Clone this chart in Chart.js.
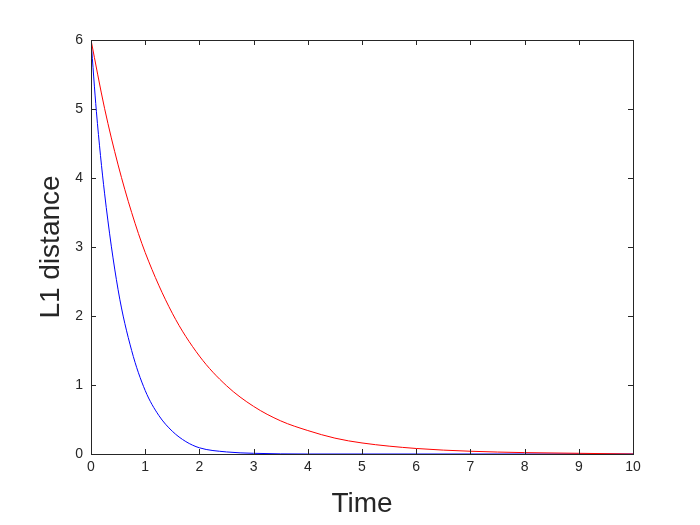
<!DOCTYPE html>
<html>
<head>
<meta charset="utf-8">
<script src="https://cdn.jsdelivr.net/npm/chart.js@4"></script>
<style>
  body { margin: 0; background: #fff; }
  #wrap { width: 700px; height: 525px; }
</style>
</head>
<body>
<div id="wrap"><canvas id="c" width="700" height="525"></canvas></div>
<script>
const timeBlue = [0, 0.1, 0.25, 0.5, 0.75, 1, 1.25, 1.5, 1.75, 2, 2.5, 3, 4, 5, 6, 7, 8, 9, 10];
const blueVals = [6, 4.96, 3.78, 2.38, 1.5, 0.92, 0.56, 0.33, 0.18, 0.09, 0.03, 0.01, 0, 0, 0, 0, 0, 0, 0];
const timeRed = [0, 0.25, 0.5, 0.75, 1, 1.5, 2, 2.5, 3, 3.5, 4, 4.5, 5, 6, 7, 8, 9, 10];
const redVals = [6, 5.01, 4.19, 3.5, 2.92, 2.04, 1.42, 0.99, 0.69, 0.48, 0.34, 0.23, 0.16, 0.08, 0.04, 0.02, 0.01, 0];
const xTicks = [0, 1, 2, 3, 4, 5, 6, 7, 8, 9, 10];
const yTicks = [0, 1, 2, 3, 4, 5, 6];

const toPts = (xs, ys) => xs.map((x, i) => ({ x: x, y: ys[i] }));

// box around the plot plus inward tick marks, like matlab
const boxPlugin = {
  id: 'box',
  afterDraw(chart) {
    const { ctx, chartArea: a, scales } = chart;
    ctx.save();
    ctx.strokeStyle = '#262626';
    ctx.lineWidth = 1;
    ctx.strokeRect(a.left + 0.5, a.top + 0.5, a.right - a.left, a.bottom - a.top);
    ctx.beginPath();
    for (const t of xTicks) {
      const px = Math.round(scales.x.getPixelForValue(t)) + 0.5;
      ctx.moveTo(px, a.bottom); ctx.lineTo(px, a.bottom - 5);
      ctx.moveTo(px, a.top); ctx.lineTo(px, a.top + 5);
    }
    for (const t of yTicks) {
      const py = Math.round(scales.y.getPixelForValue(t)) + 0.5;
      ctx.moveTo(a.left, py); ctx.lineTo(a.left + 5, py);
      ctx.moveTo(a.right, py); ctx.lineTo(a.right - 5, py);
    }
    ctx.stroke();
    ctx.restore();
  }
};

new Chart(document.getElementById('c'), {
  type: 'line',
  data: {
    datasets: [
      { data: toPts(timeRed, redVals), borderColor: '#ff0000', borderWidth: 1, pointRadius: 0, cubicInterpolationMode: 'monotone' },
      { data: toPts(timeBlue, blueVals), borderColor: '#0000ff', borderWidth: 1, pointRadius: 0, cubicInterpolationMode: 'monotone' }
    ]
  },
  options: {
    responsive: false,
    animation: false,
    layout: { padding: { top: 40, right: 67, left: 30, bottom: 0 } },
    plugins: { legend: { display: false }, tooltip: { enabled: false } },
    scales: {
      x: {
        type: 'linear', min: 0, max: 10,
        afterBuildTicks: s => { s.ticks = xTicks.map(v => ({ value: v })); },
        afterFit: s => { s.height = 71; },
        grid: { display: false, drawTicks: false },
        border: { display: false },
        ticks: { color: '#262626', font: { family: 'Liberation Sans', size: 14 }, padding: 5, maxRotation: 0 },
        title: { display: true, text: 'Time', color: '#262626', font: { family: 'Liberation Sans', size: 28 }, padding: { top: 2 } }
      },
      y: {
        min: 0, max: 6,
        afterBuildTicks: s => { s.ticks = yTicks.map(v => ({ value: v })); },
        afterFit: s => { s.width = 61; },
        grid: { display: false, drawTicks: false },
        border: { display: false },
        ticks: { color: '#262626', font: { family: 'Liberation Sans', size: 14 }, padding: 8 },
        title: { display: true, text: 'L1 distance', color: '#262626', font: { family: 'Liberation Sans', size: 28 }, padding: { bottom: 4 } }
      }
    }
  },
  plugins: [boxPlugin]
});
</script>
</body>
</html>
